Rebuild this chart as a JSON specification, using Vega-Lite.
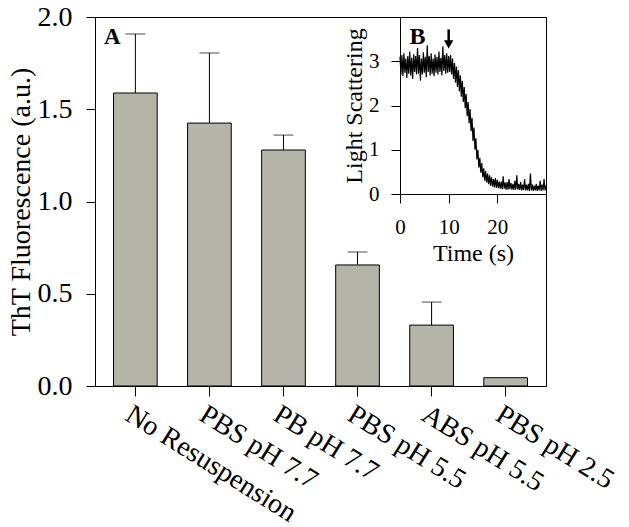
{
  "$schema": "https://vega.github.io/schema/vega-lite/v6.json",
  "width": 451,
  "height": 369,
  "autosize": {"type": "none"},
  "padding": {"left": 95, "top": 17, "right": 83, "bottom": 141},
  "background": "white",
  "config": {
    "view": {"stroke": "black", "strokeWidth": 1},
    "font": "Times New Roman, Liberation Serif, serif",
    "axis": {
      "grid": false,
      "domainColor": "black",
      "tickColor": "black",
      "labelColor": "black",
      "titleColor": "black",
      "labelFont": "Times New Roman, Liberation Serif, serif",
      "titleFont": "Times New Roman, Liberation Serif, serif",
      "titleFontWeight": "normal",
      "labelFlush": false,
      "labelOverlap": false,
      "labelLimit": 0
    }
  },
  "datasets": {
    "bars": [
      {"condition": "No Resuspension", "value": 1.588, "err": 1.908},
      {"condition": "PBS pH 7.7", "value": 1.425, "err": 1.805},
      {"condition": "PB pH 7.7", "value": 1.279, "err": 1.36},
      {"condition": "PBS pH 5.5", "value": 0.656, "err": 0.726},
      {"condition": "ABS pH 5.5", "value": 0.33, "err": 0.455},
      {"condition": "PBS pH 2.5", "value": 0.045, "err": null}
    ],
    "trace": [
      {"t":0,"s":3.10},{"t":0.2,"s":2.70},{"t":0.4,"s":3.14},{"t":0.6,"s":2.66},{"t":0.8,"s":3.18},
      {"t":1.0,"s":2.74},{"t":1.2,"s":3.06},{"t":1.4,"s":2.62},{"t":1.6,"s":3.12},{"t":1.8,"s":2.72},
      {"t":2.0,"s":3.22},{"t":2.2,"s":2.68},{"t":2.4,"s":3.08},{"t":2.6,"s":2.60},{"t":2.8,"s":3.16},
      {"t":3.0,"s":2.76},{"t":3.2,"s":3.12},{"t":3.4,"s":2.70},{"t":3.6,"s":3.30},{"t":3.8,"s":2.72},
      {"t":4.0,"s":3.14},{"t":4.2,"s":2.56},{"t":4.4,"s":3.06},{"t":4.6,"s":2.70},{"t":4.8,"s":3.20},
      {"t":5.0,"s":2.74},{"t":5.2,"s":3.10},{"t":5.4,"s":2.64},{"t":5.6,"s":3.36},{"t":5.8,"s":2.76},
      {"t":6.0,"s":3.12},{"t":6.2,"s":2.68},{"t":6.4,"s":3.18},{"t":6.6,"s":2.72},{"t":6.8,"s":3.06},
      {"t":7.0,"s":2.66},{"t":7.2,"s":3.16},{"t":7.4,"s":2.74},{"t":7.6,"s":3.10},{"t":7.8,"s":2.70},
      {"t":8.0,"s":3.22},{"t":8.2,"s":2.76},{"t":8.4,"s":3.08},{"t":8.6,"s":2.68},{"t":8.8,"s":3.34},
      {"t":9.0,"s":2.78},{"t":9.2,"s":3.14},{"t":9.4,"s":2.72},{"t":9.6,"s":3.18},{"t":9.8,"s":2.74},
      {"t":10.0,"s":3.12},{"t":10.2,"s":2.76},{"t":10.4,"s":3.14},{"t":10.6,"s":2.70},{"t":10.8,"s":3.06},
      {"t":11.0,"s":2.60},{"t":11.2,"s":2.96},{"t":11.4,"s":2.52},{"t":11.6,"s":2.88},{"t":11.8,"s":2.42},
      {"t":12.0,"s":2.80},{"t":12.2,"s":2.32},{"t":12.4,"s":2.68},{"t":12.6,"s":2.20},{"t":12.8,"s":2.56},
      {"t":13.0,"s":2.08},{"t":13.2,"s":2.42},{"t":13.4,"s":1.94},{"t":13.6,"s":2.26},{"t":13.8,"s":1.76},
      {"t":14.0,"s":2.08},{"t":14.2,"s":1.60},{"t":14.4,"s":1.92},{"t":14.6,"s":1.42},{"t":14.8,"s":1.72},
      {"t":15.0,"s":1.20},{"t":15.2,"s":1.50},{"t":15.4,"s":1.00},{"t":15.6,"s":1.26},{"t":15.8,"s":0.78},
      {"t":16.0,"s":1.00},{"t":16.2,"s":0.60},{"t":16.4,"s":0.82},{"t":16.6,"s":0.48},{"t":16.8,"s":0.70},
      {"t":17.0,"s":0.38},{"t":17.2,"s":0.58},{"t":17.4,"s":0.30},{"t":17.6,"s":0.52},{"t":17.8,"s":0.26},
      {"t":18.0,"s":0.46},{"t":18.2,"s":0.22},{"t":18.4,"s":0.42},{"t":18.6,"s":0.19},{"t":18.8,"s":0.38},
      {"t":19.0,"s":0.17},{"t":19.2,"s":0.34},{"t":19.4,"s":0.15},{"t":19.6,"s":0.36},{"t":19.8,"s":0.14},
      {"t":20.0,"s":0.32},{"t":20.2,"s":0.13},{"t":20.4,"s":0.28},{"t":20.6,"s":0.12},{"t":20.8,"s":0.28},
      {"t":21.0,"s":0.11},{"t":21.2,"s":0.40},{"t":21.4,"s":0.12},{"t":21.6,"s":0.26},{"t":21.8,"s":0.10},
      {"t":22.0,"s":0.27},{"t":22.2,"s":0.10},{"t":22.4,"s":0.34},{"t":22.6,"s":0.11},{"t":22.8,"s":0.25},
      {"t":23.0,"s":0.10},{"t":23.2,"s":0.23},{"t":23.4,"s":0.09},{"t":23.6,"s":0.30},{"t":23.8,"s":0.10},
      {"t":24.0,"s":0.42},{"t":24.2,"s":0.10},{"t":24.4,"s":0.23},{"t":24.6,"s":0.09},{"t":24.8,"s":0.27},
      {"t":25.0,"s":0.08},{"t":25.2,"s":0.21},{"t":25.4,"s":0.09},{"t":25.6,"s":0.33},{"t":25.8,"s":0.08},
      {"t":26.0,"s":0.21},{"t":26.2,"s":0.08},{"t":26.4,"s":0.23},{"t":26.6,"s":0.07},{"t":26.8,"s":0.46},
      {"t":27.0,"s":0.08},{"t":27.2,"s":0.21},{"t":27.4,"s":0.07},{"t":27.6,"s":0.19},{"t":27.8,"s":0.08},
      {"t":28.0,"s":0.23},{"t":28.2,"s":0.07},{"t":28.4,"s":0.19},{"t":28.6,"s":0.08},{"t":28.8,"s":0.30},
      {"t":29.0,"s":0.07},{"t":29.2,"s":0.21},{"t":29.4,"s":0.08},{"t":29.6,"s":0.34},{"t":29.8,"s":0.08},
      {"t":30.0,"s":0.19}
    ],
    "panelA": [{"label": "A", "condition": "No Resuspension", "value": 1.89}],
    "panelB": [{"label": "B", "t": 3.6, "s": 3.55}],
    "arrow": [{"t": 10, "top": 3.72, "bottom": 3.42, "tip": 3.38}]
  },
  "layer": [
    {
      "layer": [
        {
          "data": {"name": "bars"},
          "mark": {"type": "bar", "fill": "#b5b4a9", "stroke": "black", "strokeWidth": 1},
          "encoding": {
            "x": {
              "field": "condition", "type": "nominal", "sort": null,
              "scale": {"paddingInner": 0.41, "paddingOuter": 0.25},
              "axis": {
                "title": null, "labelAngle": 32, "labelAlign": "left", "labelBaseline": "top",
                "labelFontSize": 28, "labelPadding": 4, "tickSize": 10
              }
            },
            "y": {
              "field": "value", "type": "quantitative",
              "scale": {"domain": [0, 2], "nice": false},
              "axis": {
                "title": "ThT Fluorescence (a.u.)", "values": [0, 0.5, 1, 1.5, 2], "format": ".1f",
                "labelFontSize": 28, "labelPadding": 14, "tickSize": 9,
                "titleFontSize": 28, "titlePadding": 2
              }
            }
          }
        },
        {
          "data": {"name": "bars"},
          "mark": {"type": "rule", "color": "black", "strokeWidth": 1},
          "encoding": {
            "x": {"field": "condition", "type": "nominal", "sort": null},
            "y": {"field": "value", "type": "quantitative"},
            "y2": {"field": "err"}
          }
        },
        {
          "data": {"name": "bars"},
          "mark": {"type": "tick", "color": "black", "size": 20, "thickness": 1, "orient": "horizontal"},
          "encoding": {
            "x": {"field": "condition", "type": "nominal", "sort": null},
            "y": {"field": "err", "type": "quantitative"}
          }
        },
        {
          "data": {"name": "panelA"},
          "mark": {"type": "text", "font": "Times New Roman, Liberation Serif, serif", "fontWeight": "bold", "fontSize": 23, "dx": -23, "color": "black"},
          "encoding": {
            "x": {"field": "condition", "type": "nominal", "sort": null},
            "y": {"field": "value", "type": "quantitative"},
            "text": {"field": "label"}
          }
        }
      ]
    },
    {
      "layer": [
        {
          "data": {"name": "trace"},
          "mark": {"type": "line", "color": "black", "strokeWidth": 1.2},
          "encoding": {
            "x": {
              "field": "t", "type": "quantitative",
              "scale": {"domain": [0, 30], "range": [305, 451], "nice": false, "zero": false},
              "axis": {
                "orient": "bottom", "offset": -192, "title": "Time (s)", "values": [0, 10, 20], "format": "d",
                "labelFontSize": 21, "labelPadding": 13, "tickSize": 9,
                "titleFontSize": 24, "titlePadding": 4
              }
            },
            "y": {
              "field": "s", "type": "quantitative",
              "scale": {"domain": [0, 4], "range": [177, 0], "nice": false},
              "axis": {
                "orient": "left", "offset": -305, "title": "Light Scattering", "values": [0, 1, 2, 3], "format": "d",
                "labelFontSize": 21, "labelPadding": 12, "tickSize": 9,
                "titleFontSize": 24, "titlePadding": 2
              }
            }
          }
        },
        {
          "data": {"name": "panelB"},
          "mark": {"type": "text", "font": "Times New Roman, Liberation Serif, serif", "fontWeight": "bold", "fontSize": 24, "color": "black"},
          "encoding": {
            "x": {"field": "t", "type": "quantitative"},
            "y": {"field": "s", "type": "quantitative"},
            "text": {"field": "label"}
          }
        },
        {
          "data": {"name": "arrow"},
          "mark": {"type": "rule", "color": "black", "strokeWidth": 2.5},
          "encoding": {
            "x": {"field": "t", "type": "quantitative"},
            "y": {"field": "top", "type": "quantitative"},
            "y2": {"field": "bottom"}
          }
        },
        {
          "data": {"name": "arrow"},
          "mark": {"type": "point", "shape": "triangle-down", "filled": true, "color": "black", "size": 90, "opacity": 1},
          "encoding": {
            "x": {"field": "t", "type": "quantitative"},
            "y": {"field": "tip", "type": "quantitative"}
          }
        }
      ]
    }
  ],
  "resolve": {"scale": {"x": "independent", "y": "independent"}, "axis": {"x": "independent", "y": "independent"}}
}
